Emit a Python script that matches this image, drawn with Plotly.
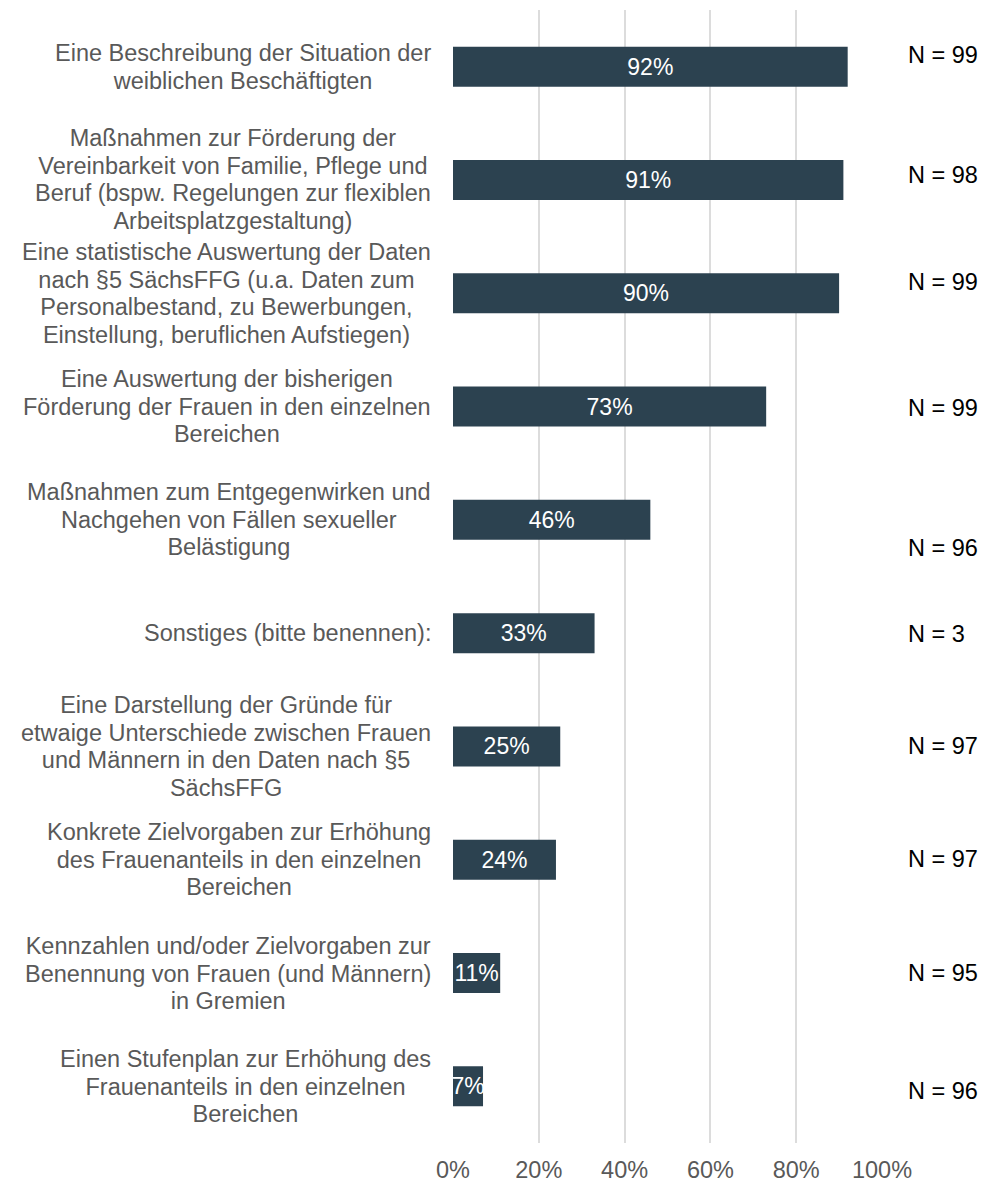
import plotly.graph_objects as go

categories = [
    "Eine Beschreibung der Situation der<br>weiblichen Beschäftigten",
    "Maßnahmen zur Förderung der<br>Vereinbarkeit von Familie, Pflege und<br>Beruf (bspw. Regelungen zur flexiblen<br>Arbeitsplatzgestaltung)",
    "Eine statistische Auswertung der Daten<br>nach §5 SächsFFG (u.a. Daten zum<br>Personalbestand, zu Bewerbungen,<br>Einstellung, beruflichen Aufstiegen)",
    "Eine Auswertung der bisherigen<br>Förderung der Frauen in den einzelnen<br>Bereichen",
    "Maßnahmen zum Entgegenwirken und<br>Nachgehen von Fällen sexueller<br>Belästigung",
    "Sonstiges (bitte benennen):",
    "Eine Darstellung der Gründe für<br>etwaige Unterschiede zwischen Frauen<br>und Männern in den Daten nach §5<br>SächsFFG",
    "Konkrete Zielvorgaben zur Erhöhung<br>des Frauenanteils in den einzelnen<br>Bereichen",
    "Kennzahlen und/oder Zielvorgaben zur<br>Benennung von Frauen (und Männern)<br>in Gremien",
    "Einen Stufenplan zur Erhöhung des<br>Frauenanteils in den einzelnen<br>Bereichen",
]
values = [92, 91, 90, 73, 46, 33, 25, 24, 11, 7]
n_values = [99, 98, 99, 99, 96, 3, 97, 97, 95, 96]
tick_values = [0, 20, 40, 60, 80, 100]
tick_labels = ["0%", "20%", "40%", "60%", "80%", "100%"]

# small vertical nudges of the N labels (pixels, positive = up)
n_label_nudge = [12, 5, 11, -1, -28, -1, 0, 1, 0, -5]

FONT = "Liberation Sans, Arial, sans-serif"
BAR_COLOR = "#2c4250"
GREY_TEXT = "#595959"


def tight_lines(label, px=23.5):
    # render each line at px size while the (smaller) base font sets the line pitch
    return "<br>".join(f'<span style="font-size:{px}px">{ln}</span>' for ln in label.split("<br>"))


fig = go.Figure()
fig.add_trace(go.Bar(
    x=values,
    y=categories,
    orientation="h",
    marker=dict(color=BAR_COLOR, line=dict(width=0)),
    text=[f"{v}%" for v in values],
    textposition="inside",
    insidetextanchor="middle",
    textangle=0,
    textfont=dict(family=FONT, size=23, color="white"),
    cliponaxis=True,
    hoverinfo="skip",
))

annotations = []
for cat in categories:
    annotations.append(dict(
        x=0, xref="paper", y=cat, yref="y",
        text=tight_lines(cat), showarrow=False,
        xanchor="right", yanchor="middle", align="center",
        xshift=-20,
        font=dict(family=FONT, size=21.3, color=GREY_TEXT),
    ))
for cat, n, dy in zip(categories, n_values, n_label_nudge):
    annotations.append(dict(
        x=1, xref="paper", y=cat, yref="y",
        text=f"N = {n}", showarrow=False,
        xanchor="left", yanchor="middle",
        xshift=24, yshift=dy,
        font=dict(family=FONT, size=23.5, color="#000000"),
    ))

fig.update_layout(
    width=982, height=1183,
    margin=dict(l=453, r=100, t=10, b=40, autoexpand=False),
    paper_bgcolor="white", plot_bgcolor="white",
    showlegend=False,
    bargap=0.647,
    uniformtext=dict(minsize=23, mode="show"),
    annotations=annotations,
    font=dict(family=FONT),
)
fig.update_xaxes(
    range=[0, 100],
    tickvals=tick_values, ticktext=tick_labels,
    showgrid=True, gridcolor="#dcdcdc", gridwidth=1.5,
    zeroline=False, showline=False, ticks="",
    ticklabelstandoff=10, automargin=False,
    tickfont=dict(family=FONT, size=23.5, color=GREY_TEXT),
    fixedrange=True,
)
fig.update_yaxes(
    autorange="reversed", automargin=False,
    showticklabels=False, showgrid=False, zeroline=False, showline=False,
    ticks="", fixedrange=True,
)

fig.write_html(
    "out.html",
    config={"displayModeBar": False},
    post_script="document.body.style.margin='0';document.body.style.overflow='hidden';",
)
